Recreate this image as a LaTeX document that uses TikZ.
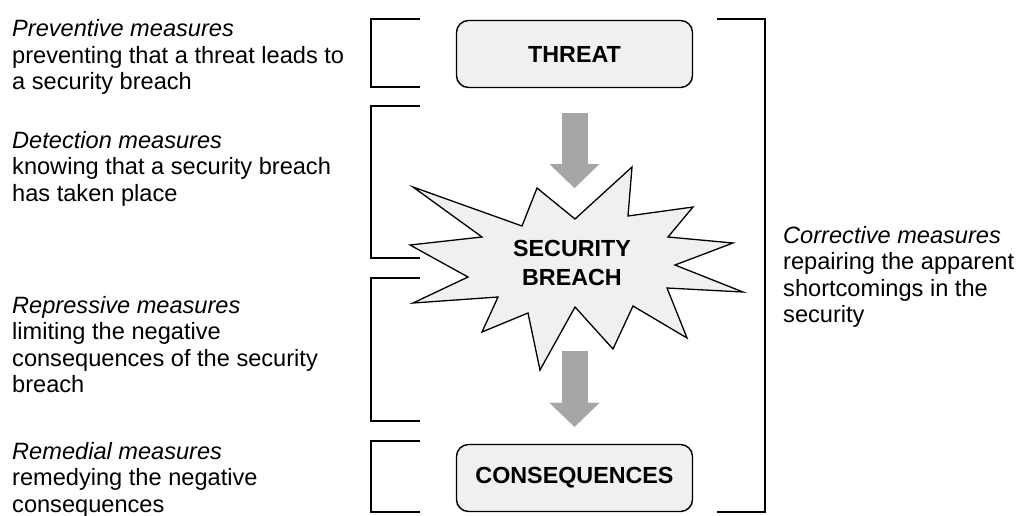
\documentclass[tikz,border=0pt]{standalone}
\usepackage{fontspec}
\setmainfont{Liberation Sans}
\usepackage{xcolor}
\usepackage{tikz}
\usetikzlibrary{positioning,arrows.meta,calc}

\definecolor{boxgray}{HTML}{F0F0F0}
\definecolor{flowgray}{HTML}{A6A6A6}

\begin{document}
\begin{tikzpicture}[x=1pt, y=-1pt,
    every node/.style={font=\fontsize{23.6}{26.5}\selectfont, inner sep=0pt},
    stage/.style={draw, line width=1.4pt, rounded corners=12pt, fill=boxgray,
                  minimum width=236pt, minimum height=67pt,
                  font=\fontsize{23.3}{26.5}\selectfont\bfseries},
    measure/.style={anchor=base west, align=left},
    bracket/.style={line width=1.3pt},
    flow/.style={draw=flowgray, line width=26pt,
                 -{Triangle[length=24pt, width=50pt, line width=0.01pt]}}]
  \useasboundingbox (0,0) rectangle (1018,515);

  \node[stage] (threat) at (574.5,54) {THREAT};
  \node[stage] (cons) at (574.5,478) {CONSEQUENCES};

  \draw[line width=1.3pt, fill=boxgray]
    (413,187) -- (522,226) -- (537,188) -- (575,219) -- (632,167)
    -- (628,216) -- (693,207) -- (668,237) -- (733,243) -- (675,265)
    -- (743,292) -- (667,288) -- (687,338) -- (633,306) -- (613,349)
    -- (575,307) -- (540,370) -- (528,313) -- (482,332) -- (498,297)
    -- (413,303) -- (468,277) -- (410,245) -- (482,237) -- cycle;
  \node[align=center, font=\fontsize{23.3}{29}\selectfont\bfseries]
    (breach) at (572,263) {SECURITY\\BREACH};
  \coordinate (notchtop) at (574.5,219);
  \coordinate (notchbot) at (574.5,307);

  \draw[flow, shorten <=25pt, shorten >=31pt] (threat.south) -- (notchtop);
  \draw[flow, shorten <=44pt, shorten >=17pt] (notchbot) -- (cons.north);

  \draw[bracket] (420,19) -- (371,19) -- (371,87) -- (420,87);
  \draw[bracket] (420,106) -- (371,106) -- (371,258) -- (420,258);
  \draw[bracket] (420,278) -- (371,278) -- (371,421) -- (420,421);
  \draw[bracket] (420,441) -- (371,441) -- (371,512) -- (420,512);
  \draw[bracket] (717,19) -- (765,19) -- (765,512) -- (717,512);

  \node[measure] (prevent) at (12,89.7)
    {\textit{Preventive measures}\\preventing that a threat leads to\\a security breach};
  \node[measure] (detect) at (12,201)
    {\textit{Detection measures}\\knowing that a security breach\\has taken place};
  \node[measure] (repress) at (12,392.5)
    {\textit{Repressive measures}\\limiting the negative\\consequences of the security\\breach};
  \node[measure] (remedy) at (12,512)
    {\textit{Remedial measures}\\remedying the negative\\consequences};
  \node[measure] (correct) at (783,322.5)
    {\textit{Corrective measures}\\repairing the apparent\\shortcomings in the\\security};
\end{tikzpicture}
\end{document}
